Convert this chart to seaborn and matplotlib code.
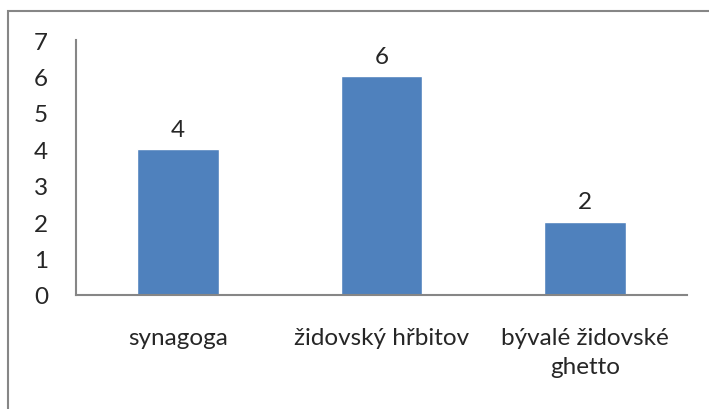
import numpy as np
import pandas as pd
import seaborn as sns
import matplotlib.pyplot as plt
from matplotlib.patches import Rectangle

# --- DATA ---
categories = ["synagoga", "židovský hřbitov", "bývalé židovské\nghetto"]
counts = [4, 6, 2]

BAR_COLOR = "#4F81BD"
AXIS_COLOR = "#868686"
FS = 17.5

sns.set_style("white")
plt.rcParams['font.family'] = ['Lato', 'DejaVu Sans']

df = pd.DataFrame({"category": categories, "count": counts})

fig = plt.figure(figsize=(7.09, 4.10), dpi=100)
ax = fig.add_axes([76 / 709, 1 - 296 / 410, (687 - 76) / 709, (296 - 41) / 410])

sns.barplot(data=df, x="category", y="count", color=BAR_COLOR, width=0.4,
            saturation=1, ax=ax)

# value labels above bars
for container in ax.containers:
    ax.bar_label(container, fontsize=FS, padding=7)

ax.set_ylim(0, 7)
ax.set_xlim(-0.5, len(categories) - 0.5)
ax.set_yticks(range(0, 8))
ax.set_xlabel("")
ax.set_ylabel("")

# spines like the office chart: left + bottom only, grey
for side in ["top", "right"]:
    ax.spines[side].set_visible(False)
for side in ["left", "bottom"]:
    ax.spines[side].set_color(AXIS_COLOR)
    ax.spines[side].set_linewidth(1.5)

ax.tick_params(axis="y", length=0, pad=20, labelsize=FS)
ax.tick_params(axis="x", which="major", length=0, pad=23, labelsize=FS)
for lbl in ax.get_xticklabels():
    lbl.set_linespacing(1.45)
ax.set_xticks(np.arange(-0.5, len(categories)), minor=True)
ax.tick_params(axis="x", which="minor", length=8, width=1.5, color=AXIS_COLOR)

# outer chart border (cut off on right and bottom)
fig.patches.append(Rectangle((8 / 709, -0.1), 1.1, 1 - 12 / 410 + 0.1,
                             transform=fig.transFigure, fill=False,
                             edgecolor=AXIS_COLOR, linewidth=1.5))

fig.savefig("out.png", dpi=100)
